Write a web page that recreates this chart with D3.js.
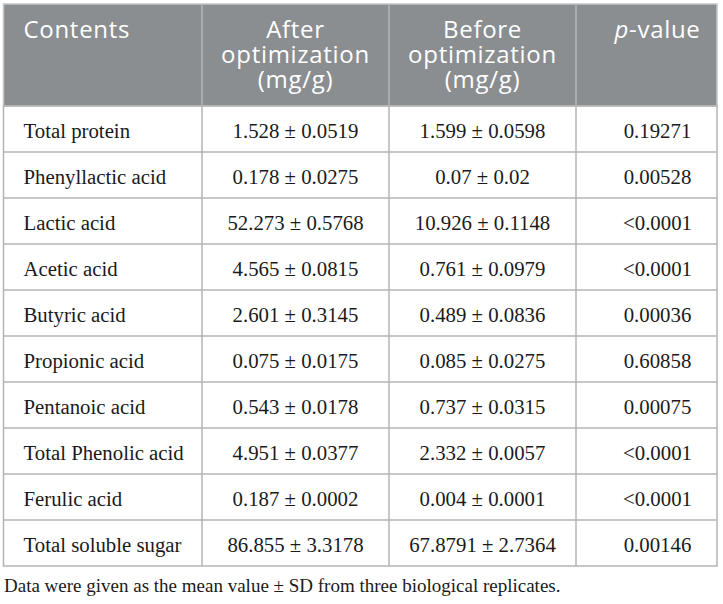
<!DOCTYPE html>
<html>
<head>
<meta charset="utf-8">
<script src="https://cdn.jsdelivr.net/npm/d3@7"></script>
<style>
  html, body { margin: 0; padding: 0; background: #fff; }
  svg { display: block; }
</style>
</head>
<body>
<div id="table-container"></div>
<script>
/* ── Table: contents before / after optimization ─────────── */

const contents = [
  'Total protein', 'Phenyllactic acid', 'Lactic acid', 'Acetic acid',
  'Butyric acid', 'Propionic acid', 'Pentanoic acid', 'Total Phenolic acid',
  'Ferulic acid', 'Total soluble sugar'
];
const afterMean  = ['1.528', '0.178', '52.273', '4.565', '2.601', '0.075', '0.543', '4.951', '0.187', '86.855'];
const afterSD    = ['0.0519', '0.0275', '0.5768', '0.0815', '0.3145', '0.0175', '0.0178', '0.0377', '0.0002', '3.3178'];
const beforeMean = ['1.599', '0.07', '10.926', '0.761', '0.489', '0.085', '0.737', '2.332', '0.004', '67.8791'];
const beforeSD   = ['0.0598', '0.02', '0.1148', '0.0979', '0.0836', '0.0275', '0.0315', '0.0057', '0.0001', '2.7364'];
const pValues    = ['0.19271', '0.00528', '<0.0001', '<0.0001', '0.00036', '0.60858', '0.00075', '<0.0001', '<0.0001', '0.00146'];

const columns = ['contents', 'after', 'before', 'p'];
const headers = [
  ['Contents'],
  ['After', 'optimization', '(mg/g)'],
  ['Before', 'optimization', '(mg/g)'],
  ['p-value']
];
const footnote = 'Data were given as the mean value \u00b1 SD from three biological replicates.';

const width = 723, height = 604;
const tableL = 3.5, tableR = 717, headT = 4, headB = 106, tableB = 566;
const colEdges = [tableL, 202, 389, 576, tableR];

const svg = d3.select('#table-container')
  .append('svg')
  .attr('width', width)
  .attr('height', height);

// Scales
const x0 = d3.scaleOrdinal().domain(columns).range(colEdges.slice(0, 4));
const x1 = d3.scaleOrdinal().domain(columns).range(colEdges.slice(1));
const y = d3.scaleBand().domain(contents).range([headB, tableB]);

const sans  = '"Open Sans", "Noto Sans", sans-serif';
const serif = '"Liberation Serif", "DejaVu Serif", serif';
const lineCol = '#b4b4b4';

// Header background
svg.append('rect')
  .attr('x', tableL).attr('y', headT)
  .attr('width', tableR - tableL).attr('height', headB - headT)
  .attr('fill', '#8a8e90')
  .attr('stroke', '#c4c6c7')
  .attr('stroke-width', 1.5);

// Header text
const textX = c => c === 'contents' ? x0(c) + 20
  : c === 'p' ? (x0(c) + x1(c)) / 2 + 11
  : (x0(c) + x1(c)) / 2;

columns.forEach((c, i) => {
  const t = svg.append('text')
    .attr('x', textX(c))
    .attr('y', 38)
    .attr('text-anchor', c === 'contents' ? 'start' : 'middle')
    .attr('font-family', sans)
    .attr('font-size', 24)
    .attr('letter-spacing', 0.7)
    .attr('fill', '#fff');
  headers[i].forEach((line, j) => {
    const ts = t.append('tspan').attr('x', textX(c)).attr('dy', j === 0 ? 0 : 25);
    if (c === 'p') {
      ts.append('tspan').attr('font-style', 'italic').text('p');
      ts.append('tspan').text(line.slice(1));
    } else {
      ts.text(line);
    }
  });
});

// Body rows
const rows = contents.map((name, i) => ({
  contents: name,
  after: `${afterMean[i]} \u00b1 ${afterSD[i]}`,
  before: `${beforeMean[i]} \u00b1 ${beforeSD[i]}`,
  p: pValues[i]
}));

const row = svg.selectAll('.row')
  .data(rows)
  .join('g')
  .attr('class', 'row')
  .attr('transform', d => `translate(0,${y(d.contents)})`);

row.selectAll('text')
  .data(d => columns.map(c => ({ c, v: d[c] })))
  .join('text')
  .attr('x', d => textX(d.c))
  .attr('y', y.bandwidth() / 2 + 9)
  .attr('text-anchor', d => d.c === 'contents' ? 'start' : 'middle')
  .attr('font-family', serif)
  .attr('font-size', 20.8)
  .attr('fill', '#1a1a1a')
  .text(d => d.v);

// Grid lines
svg.append('g')
  .selectAll('line')
  .data(contents.slice(1))
  .join('line')
  .attr('x1', tableL).attr('x2', tableR)
  .attr('y1', d => y(d)).attr('y2', d => y(d))
  .attr('stroke', lineCol).attr('stroke-width', 1.5);

svg.append('g')
  .selectAll('line')
  .data(colEdges.slice(1, 4))
  .join('line')
  .attr('x1', d => d).attr('x2', d => d)
  .attr('y1', headT).attr('y2', tableB)
  .attr('stroke', lineCol).attr('stroke-width', 1.5);

svg.append('rect')
  .attr('x', tableL).attr('y', headB)
  .attr('width', tableR - tableL).attr('height', tableB - headB)
  .attr('fill', 'none')
  .attr('stroke', lineCol).attr('stroke-width', 1.5);

// Footnote
svg.append('text')
  .attr('x', 4)
  .attr('y', 592)
  .attr('font-family', serif)
  .attr('font-size', 19)
  .attr('fill', '#1a1a1a')
  .text(footnote);
</script>
</body>
</html>
